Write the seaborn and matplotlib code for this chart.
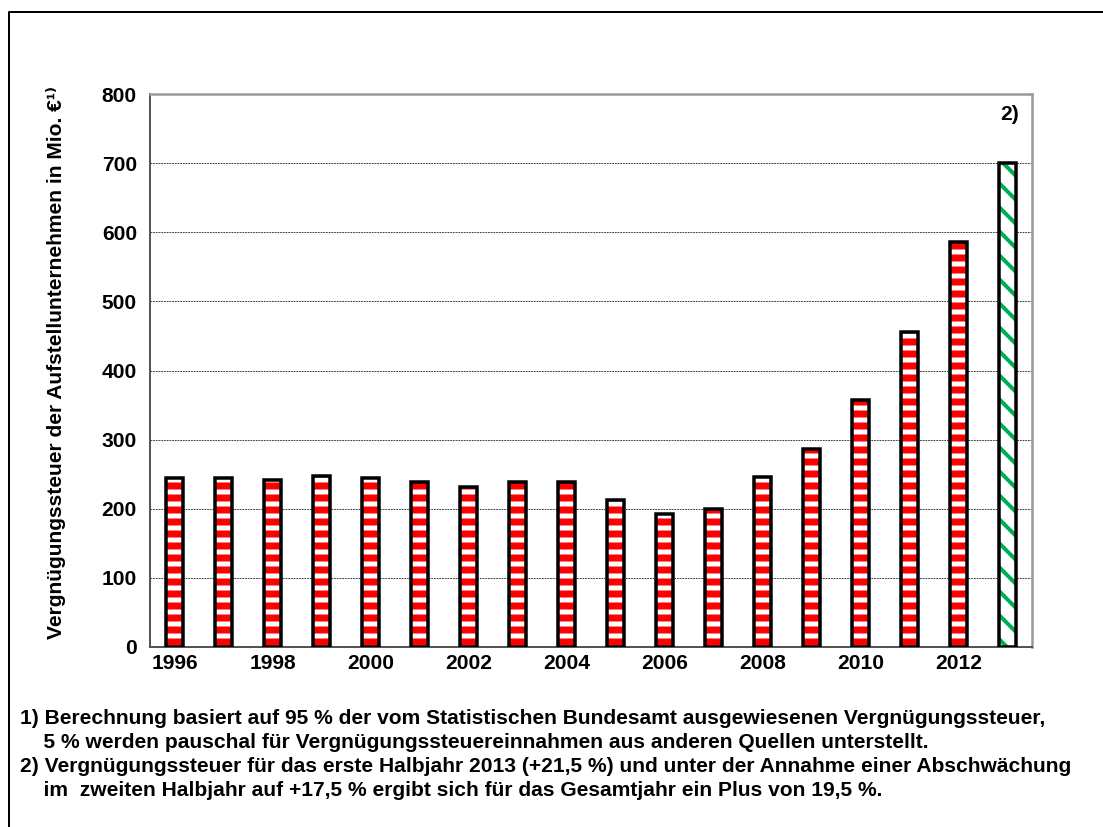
import pandas as pd
import matplotlib.pyplot as plt
import matplotlib.lines as mlines
import seaborn as sns

# Data: Vergnügungssteuer der Aufstellunternehmen (Mio. €)
years = [str(y) for y in range(1996, 2014)]
values = [245, 244, 241, 247, 245, 239, 231, 239, 239, 213, 192, 199,
          246, 286, 358, 456, 586, 700]
kind = ["Ist"] * 17 + ["Schätzung"]

tick_labels = [y if int(y) % 2 == 0 else "" for y in years]
y_ticks = [0, 100, 200, 300, 400, 500, 600, 700, 800]

ylabel = "Vergnügungssteuer der Aufstellunternehmen in Mio. €¹⁾"
note_lines = [
    "1) Berechnung basiert auf 95 % der vom Statistischen Bundesamt ausgewiesenen Vergnügungssteuer,",
    "    5 % werden pauschal für Vergnügungssteuereinnahmen aus anderen Quellen unterstellt.",
    "2) Vergnügungssteuer für das erste Halbjahr 2013 (+21,5 %) und unter der Annahme einer Abschwächung",
    "    im  zweiten Halbjahr auf +17,5 % ergibt sich für das Gesamtjahr ein Plus von 19,5 %.",
]

df = pd.DataFrame({"year": years, "value": values, "kind": kind})

# Style
sns.set_style("white")
plt.rcParams['font.family'] = ['Liberation Sans', 'DejaVu Sans']
plt.rcParams['font.weight'] = 'bold'
plt.rcParams['text.color'] = 'black'
plt.rcParams['axes.labelcolor'] = 'black'
plt.rcParams['xtick.labelcolor'] = 'black'
plt.rcParams['ytick.labelcolor'] = 'black'
plt.rcParams['hatch.linewidth'] = 7

DPI = 72
fig = plt.figure(figsize=(1103 / DPI, 827 / DPI), dpi=DPI)
ax = fig.add_axes([150 / 1103, 1 - 647 / 827, 882 / 1103, 553 / 827])

# ---------------- BARS ----------------
sns.barplot(data=df, x="year", y="value", order=years, width=0.33,
            color="white", ax=ax, zorder=2)
for patch, k in zip(ax.patches, df["kind"]):
    patch.set_facecolor("white")
    patch.set_linewidth(0)
    if k == "Ist":
        patch.set_hatch("-")
        patch.set_edgecolor("#FF0000")
        hlw = 7
    else:
        patch.set_hatch("\\")
        patch.set_edgecolor("#00B050")
        hlw = 4
    if hasattr(patch, "set_hatch_linewidth"):
        patch.set_hatch_linewidth(hlw)

# outline on top
sns.barplot(data=df, x="year", y="value", order=years, width=0.33,
            fill=False, edgecolor="black", linewidth=3.5, ax=ax, zorder=3)

# ---------------- AXES ----------------
ax.set_xlim(-0.5, len(years) - 0.5)
ax.set_ylim(0, 800)
ax.set_yticks(y_ticks)
ax.set_yticklabels([str(t) for t in y_ticks], fontsize=21, fontweight="bold")
ax.set_xticks(range(len(years)))
ax.set_xticklabels(tick_labels, fontsize=21, fontweight="bold")
ax.set_xticks([i - 0.5 for i in range(len(years) + 1)], minor=True)
ax.tick_params(axis="x", which="major", length=0, pad=7)
ax.tick_params(axis="x", which="minor", length=7, width=1.5,
               color="#404040", direction="out")
ax.tick_params(axis="y", length=7, width=1.5, color="#404040",
               direction="out", pad=6)
ax.set_xlabel("")
ax.set_ylabel(ylabel, fontsize=21, fontweight="bold")
ax.yaxis.set_label_coords(-84 / 882, 0.515)

ax.yaxis.grid(True, linestyle=(0, (2, 1)), color="#303030", linewidth=0.9)
ax.set_axisbelow(True)

for side in ["top", "right"]:
    ax.spines[side].set_color("#999999")
    ax.spines[side].set_linewidth(2.5)
for side in ["left", "bottom"]:
    ax.spines[side].set_color("#555555")
    ax.spines[side].set_linewidth(2)

ax.text(16.85, 770, "2)", fontsize=21, fontweight="bold",
        ha="left", va="center")

# ---------------- FOOTNOTES ----------------
y0 = 1 - 719 / 827
for i, line in enumerate(note_lines):
    fig.text(20 / 1103, y0 - i * 24 / 827, line, fontsize=21,
             fontweight="bold", ha="left", va="center")

# frame
fig.add_artist(mlines.Line2D([9 / 1103, 9 / 1103, 1], [0, 1 - 12 / 827, 1 - 12 / 827],
                             color="black", linewidth=2))

fig.savefig("out.png", dpi=DPI)
